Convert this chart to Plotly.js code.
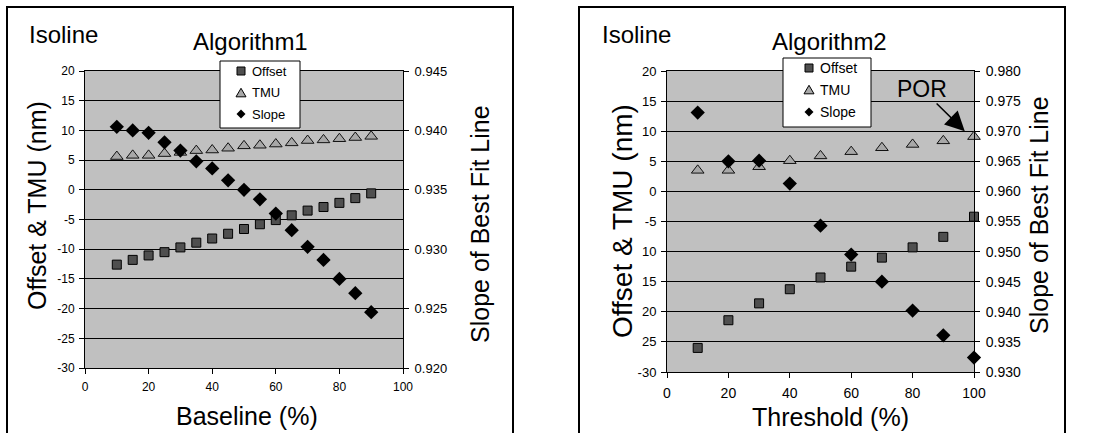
<!DOCTYPE html>
<html>
<head>
<meta charset="utf-8">
<script src="https://cdn.plot.ly/plotly-3.0.1.min.js"></script>
<style>html,body{margin:0;padding:0;background:#fff;}#chart{width:1095px;height:433px;}</style>
</head>
<body>
<div id="chart"></div>
<script>
// ---- Data: Algorithm1 (Baseline %) ----
const baseline = [10,15,20,25,30,35,40,45,50,55,60,65,70,75,80,85,90];
const offset1  = [-12.6,-11.8,-11.05,-10.5,-9.7,-8.9,-8.2,-7.4,-6.6,-5.8,-5.1,-4.3,-3.5,-2.9,-2.2,-1.4,-0.6];
const tmu1     = [5.6,5.8,5.8,6.1,6.3,6.6,6.7,7.0,7.4,7.5,7.7,7.9,8.3,8.4,8.6,8.8,9.0];
const slope1   = [0.9403,0.9400,0.9398,0.9390,0.9383,0.9374,0.9368,0.9358,0.9350,0.9342,0.9330,0.9316,0.9302,0.9291,0.9275,0.9263,0.9247];

// ---- Data: Algorithm2 (Threshold %) ----
const threshold = [10,20,30,40,50,60,70,80,90,100];
const offset2   = [-26.0,-21.4,-18.6,-16.25,-14.3,-12.5,-11.0,-9.3,-7.55,-4.2];
const tmu2      = [3.5,3.5,4.1,5.1,5.9,6.6,7.25,7.8,8.4,9.1];
const slope2    = [0.9731,0.9650,0.9651,0.9613,0.9543,0.9495,0.9450,0.9402,0.9361,0.9324];

// ---- Tick labels / series names ----
const seriesNames   = ["Offset","TMU","Slope"];
const leftTickVals  = [20,15,10,5,0,-5,-10,-15,-20,-25,-30];
const leftTickText1 = ["20","15","10","5","0","-5","-10","-15","-20","-25","-30"];
const leftTickText2 = ["20","15","10","5","0","-5","10","15","20","25","-30"];

const W = 1095, H = 433;
const px = v => v / W;
const py = v => 1 - v / H;
const FONT = "Liberation Sans, Arial, Helvetica, sans-serif";

const SQ_FILL = '#4f4f4f', TRI_FILL = '#a8a8a8', DIA_FILL = '#000';
const sqM  = {symbol:'square', size:9, color:SQ_FILL, line:{color:'#000', width:1}};
const triM = {symbol:'triangle-up', size:11, color:TRI_FILL, line:{color:'#111', width:1}};
const diaM = {symbol:'diamond', size:11, color:DIA_FILL, line:{color:'#000', width:0}};

const traces = [
  {x:baseline, y:offset1, name:seriesNames[0], mode:'markers', marker:sqM, xaxis:'x', yaxis:'y', cliponaxis:false},
  {x:baseline, y:tmu1, name:seriesNames[1], mode:'markers', marker:triM, xaxis:'x', yaxis:'y', cliponaxis:false},
  {x:baseline, y:slope1, name:seriesNames[2], mode:'markers', marker:diaM, xaxis:'x', yaxis:'y2', cliponaxis:false},
  {x:threshold, y:offset2, name:seriesNames[0], mode:'markers', marker:sqM, xaxis:'x2', yaxis:'y3', cliponaxis:false},
  {x:threshold, y:tmu2, name:seriesNames[1], mode:'markers', marker:triM, xaxis:'x2', yaxis:'y3', cliponaxis:false},
  {x:threshold, y:slope2, name:seriesNames[2], mode:'markers', marker:diaM, xaxis:'x2', yaxis:'y4', cliponaxis:false}
];

const baseAx = {showline:true, linecolor:'#000', linewidth:1, ticks:'outside', ticklen:5, tickcolor:'#000', zeroline:false, fixedrange:true};

const dom1x = [px(85), px(403)], dom1y = [py(368), py(71)];
const dom2x = [px(667), px(974)], dom2y = [py(372), py(71)];

// compact legend box drawn like the original (symbol close to its label)
function glyph(kind, cx, cy, s) {
  let path, fill;
  if (kind === 0) { path = `M${-s},${-s} L${s},${-s} L${s},${s} L${-s},${s} Z`; fill = SQ_FILL; }
  else if (kind === 1) { path = `M${-s-0.5},${-s*0.85} L${s+0.5},${-s*0.85} L0,${s*1.05} Z`; fill = TRI_FILL; }
  else { path = `M0,${s+0.5} L${s+0.5},0 L0,${-s-0.5} L${-s-0.5},0 Z`; fill = DIA_FILL; }
  return {type:'path', xref:'paper', yref:'paper', xsizemode:'pixel', ysizemode:'pixel',
          xanchor:px(cx), yanchor:py(cy), path:path, fillcolor:fill,
          line:{color:'#000', width:kind===2?0:1}, layer:'above'};
}
function legendBox(x0, y0, x1, y1, symX, textX, rows, fs, annots, shapes) {
  shapes.push({type:'rect', xref:'paper', yref:'paper', x0:px(x0), x1:px(x1), y0:py(y1), y1:py(y0),
               fillcolor:'#fff', line:{color:'#000', width:1}, layer:'above'});
  rows.forEach((ry, i) => {
    shapes.push(glyph(i, symX, ry, i === 1 ? 4.5 : 4));
    annots.push({text:seriesNames[i], xref:'paper', yref:'paper', x:px(textX), y:py(ry), xanchor:'left', yanchor:'middle',
                 showarrow:false, font:{size:fs}});
  });
}

const shapes = [
  {type:'rect', xref:'paper', yref:'paper', x0:px(7), x1:px(513), y0:-0.1, y1:py(7), line:{color:'#000', width:2}, layer:'below'},
  {type:'rect', xref:'paper', yref:'paper', x0:px(579), x1:px(1065), y0:-0.1, y1:py(7), line:{color:'#000', width:2}, layer:'below'}
];
const annotations = [
  {text:'Isoline', xref:'paper', yref:'paper', x:px(27), y:py(35), xanchor:'left', yanchor:'middle', showarrow:false, font:{size:24}},
  {text:'Algorithm1', xref:'paper', yref:'paper', x:px(250), y:py(42), xanchor:'center', yanchor:'middle', showarrow:false, font:{size:24}},
  {text:'Offset & TMU (nm)', xref:'paper', yref:'paper', x:px(37), y:py(206), xanchor:'center', yanchor:'middle', textangle:-90, showarrow:false, font:{size:25}},
  {text:'Slope of Best Fit Line', xref:'paper', yref:'paper', x:px(480), y:py(224), xanchor:'center', yanchor:'middle', textangle:-90, showarrow:false, font:{size:25}},
  {text:'Baseline (%)', xref:'paper', yref:'paper', x:px(247), y:py(416), xanchor:'center', yanchor:'middle', showarrow:false, font:{size:25}},
  {text:'Isoline', xref:'paper', yref:'paper', x:px(600), y:py(35), xanchor:'left', yanchor:'middle', showarrow:false, font:{size:24}},
  {text:'Algorithm2', xref:'paper', yref:'paper', x:px(829), y:py(42), xanchor:'center', yanchor:'middle', showarrow:false, font:{size:24}},
  {text:'Offset & TMU (nm)', xref:'paper', yref:'paper', x:px(622), y:py(221), xanchor:'center', yanchor:'middle', textangle:-90, showarrow:false, font:{size:28}},
  {text:'Slope of Best Fit Line', xref:'paper', yref:'paper', x:px(1039), y:py(215), xanchor:'center', yanchor:'middle', textangle:-90, showarrow:false, font:{size:25}},
  {text:'Threshold (%)', xref:'paper', yref:'paper', x:px(830), y:py(417), xanchor:'center', yanchor:'middle', showarrow:false, font:{size:25}},
  {text:'POR', xref:'x2', yref:'y3', x:97, y:10, ax:83, ay:17, axref:'x2', ayref:'y3', showarrow:true, arrowhead:2, arrowsize:2.6, arrowwidth:1.5, arrowcolor:'#000', font:{size:23}}
];
legendBox(220, 61, 300, 128, 241, 250, [71, 93, 114], 13, annotations, shapes);
legendBox(783, 58, 871, 127, 809, 818, [68, 90, 112], 14, annotations, shapes);

const layout = {
  width:W, height:H, margin:{l:0,r:0,t:0,b:0}, autosize:false,
  paper_bgcolor:'#fff', plot_bgcolor:'#c0c0c0',
  font:{family:FONT, color:'#000'},
  showlegend:false,
  xaxis: Object.assign({}, baseAx, {domain:dom1x, anchor:'y', range:[0,100], tickvals:[0,20,40,60,80,100], showgrid:false, mirror:true, tickfont:{size:12}, ticklabelstandoff:3}),
  yaxis: Object.assign({}, baseAx, {domain:dom1y, anchor:'x', range:[-30,20], tickvals:leftTickVals, ticktext:leftTickText1, showgrid:true, gridcolor:'#000', gridwidth:1, tickfont:{size:12}, ticklabelstandoff:2}),
  yaxis2: Object.assign({}, baseAx, {overlaying:'y', side:'right', anchor:'x', range:[0.920,0.945], dtick:0.005, tick0:0.920, tickformat:'.3f', showgrid:false, tickfont:{size:13}, ticklabelstandoff:3}),
  xaxis2: Object.assign({}, baseAx, {domain:dom2x, anchor:'y3', range:[0,100], tickvals:[0,20,40,60,80,100], showgrid:false, mirror:true, tickfont:{size:14}, ticklabelstandoff:3}),
  yaxis3: Object.assign({}, baseAx, {domain:dom2y, anchor:'x2', range:[-30,20], tickvals:leftTickVals, ticktext:leftTickText2, showgrid:true, gridcolor:'#000', gridwidth:1, tickfont:{size:13}, ticklabelstandoff:2}),
  yaxis4: Object.assign({}, baseAx, {overlaying:'y3', side:'right', anchor:'x2', range:[0.930,0.980], dtick:0.005, tick0:0.930, tickformat:'.3f', showgrid:false, tickfont:{size:14}, ticklabelstandoff:3}),
  shapes: shapes,
  annotations: annotations
};

Plotly.newPlot('chart', traces, layout, {staticPlot:true, displayModeBar:false});
</script>
</body>
</html>
